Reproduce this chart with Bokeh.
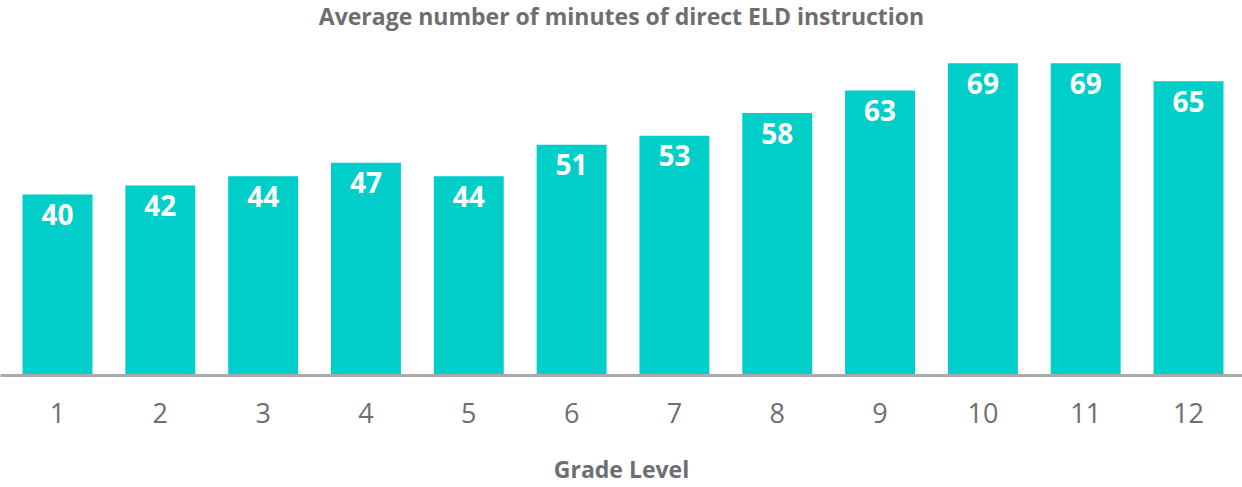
from bokeh.plotting import figure
from bokeh.models import ColumnDataSource, Range1d, Label, FixedTicker
from bokeh.core.properties import value
from bokeh.embed import file_html
from bokeh.resources import INLINE

grades = [1, 2, 3, 4, 5, 6, 7, 8, 9, 10, 11, 12]
minutes = [40, 42, 44, 47, 44, 51, 53, 58, 63, 69, 69, 65]
title_text = "Average number of minutes of direct ELD instruction"
x_label = "Grade Level"

BAR = "#00CEC9"
GRAY = "#6D6E71"
FONT = "Open Sans"

X0, X1 = 0.4456, 12.525

src = ColumnDataSource(dict(x=grades, top=minutes, lab=[str(v) for v in minutes]))

p = figure(width=1242, height=487, output_backend="svg", toolbar_location=None,
           x_range=Range1d(X0, X1), y_range=Range1d(0, 82.86),
           y_axis_location=None, min_border_left=0, min_border_right=0,
           min_border_top=0, min_border_bottom=110)
p.outline_line_color = None
p.xgrid.grid_line_color = None
p.ygrid.grid_line_color = None
p.background_fill_color = "white"
p.border_fill_color = "white"

p.vbar(x="x", top="top", bottom=0, width=0.68, source=src,
       fill_color=BAR, line_color=None)

p.text(x="x", y="top", text="lab", source=src, y_offset=20,
       text_align="center", text_baseline="middle",
       text_font=value(FONT), text_font_style="bold",
       text_font_size="28px", text_color="white")

ax = p.xaxis[0]
ax.ticker = FixedTicker(ticks=grades)
ax.axis_line_color = "#AAAAAA"
ax.axis_line_width = 3
ax.major_tick_line_color = None
ax.minor_tick_line_color = None
ax.major_label_text_font = FONT
ax.major_label_text_font_size = "27px"
ax.major_label_text_color = GRAY
ax.major_label_standoff = 21
ax.axis_label = x_label
ax.axis_label_text_font = FONT
ax.axis_label_text_font_style = "bold"
ax.axis_label_text_font_size = "23px"
ax.axis_label_text_color = GRAY
ax.axis_label_standoff = 27

p.add_layout(Label(x=(X0 + X1) / 2, y=79.34, text=title_text,
                   text_align="center", text_baseline="middle",
                   text_font=FONT, text_font_style="bold",
                   text_font_size="23px", text_color=GRAY))

open("out.html", "w").write(file_html(p, INLINE))
